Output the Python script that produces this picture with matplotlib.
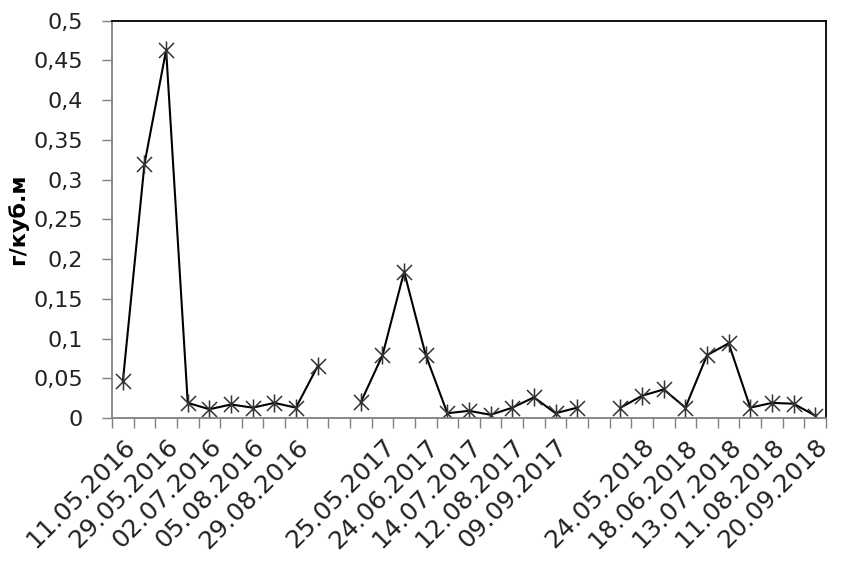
import numpy as np
import matplotlib
matplotlib.use("Agg")
import matplotlib.pyplot as plt
from matplotlib.path import Path

# Даты отбора (подписаны через одну, как на исходном графике)
labels = ["11.05.2016", "", "29.05.2016", "", "02.07.2016", "", "05.08.2016", "",
          "29.08.2016", "", "", "", "25.05.2017", "", "24.06.2017", "", "14.07.2017", "",
          "12.08.2017", "", "09.09.2017", "", "", "", "24.05.2018", "", "18.06.2018", "",
          "13.07.2018", "", "11.08.2018", "", "20.09.2018"]

# Концентрация, г/куб.м (nan - нет данных)
values = [0.046, 0.32, 0.463, 0.019, 0.011, 0.017, 0.013, 0.019, 0.013, 0.065,
          np.nan, 0.02, 0.079, 0.184, 0.079, 0.006, 0.009, 0.004, 0.013, 0.026,
          0.006, 0.013, np.nan, 0.013, 0.028, 0.036, 0.013, 0.079, 0.094, 0.013,
          0.019, 0.018, 0.003]

yticks = [0, 0.05, 0.1, 0.15, 0.2, 0.25, 0.3, 0.35, 0.4, 0.45, 0.5]
ytick_labels = ["0", "0,05", "0,1", "0,15", "0,2", "0,25", "0,3", "0,35", "0,4", "0,45", "0,5"]

# маркер-звёздочка как в Excel
star = Path([(-1, -1), (1, 1), (-1, 1), (1, -1), (0, -1.2), (0, 1.2)],
            [Path.MOVETO, Path.LINETO, Path.MOVETO, Path.LINETO, Path.MOVETO, Path.LINETO])

x = np.arange(len(values))

fig = plt.figure(figsize=(8.52, 5.66), dpi=100)
ax = fig.add_axes([0.1315, 0.2615, 0.838, 0.7019])

ax.plot(x, values, color="black", lw=1.5, marker=star, markersize=13,
        markeredgecolor="#333333", markeredgewidth=1.1, markerfacecolor="none")

ax.set_xlim(-0.5, len(values) - 0.5)
ax.set_ylim(0, 0.5)

ax.set_yticks(yticks)
ax.set_yticklabels(ytick_labels, fontsize=16, color="#222222")

ax.set_xticks(x)
ax.set_xticklabels(labels, rotation=45, ha="right", rotation_mode="anchor",
                   fontsize=18, color="#222222")
ax.set_xticks(np.arange(-0.5, len(values)), minor=True)
ax.tick_params(axis="x", which="major", length=0, pad=12)
ax.tick_params(axis="x", which="minor", length=7, color="#808080", width=1)
ax.tick_params(axis="y", length=7, color="#808080", width=1, pad=14)

for s in ["left", "bottom"]:
    ax.spines[s].set_color("#808080")
    ax.spines[s].set_linewidth(1.3)
for s in ["top", "right"]:
    ax.spines[s].set_color("black")
    ax.spines[s].set_linewidth(1.3)

ax.set_ylabel("г/куб.м", fontsize=16, fontweight="bold")
ax.yaxis.set_label_coords(-0.118, 0.5)

fig.savefig("out.png", dpi=100)
